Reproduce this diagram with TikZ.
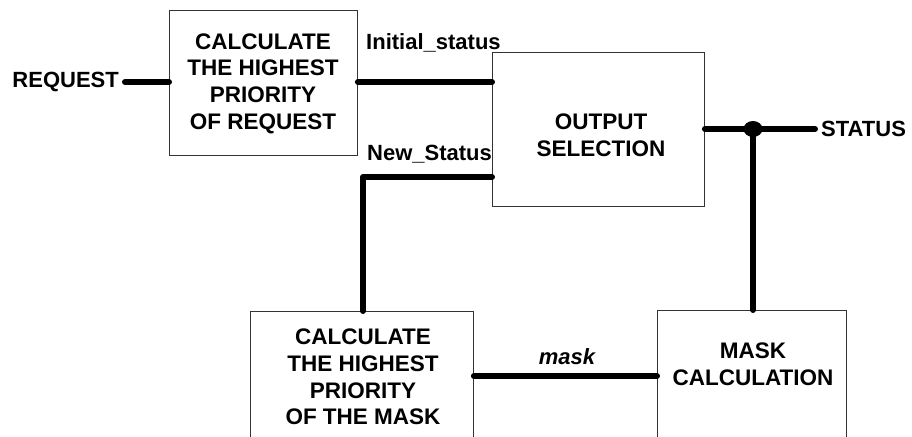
\documentclass[tikz,border=0pt]{standalone}
\usepackage{fontspec}
\setmainfont{Liberation Sans}
\begin{document}
\begin{tikzpicture}[x=1pt,y=-1pt,
  blk/.style={draw=black!80, line width=0.9pt, fill=white, inner sep=0pt, anchor=north west},
  blktext/.style={align=center, inner sep=0pt, font=\bfseries\fontsize{22.5}{26.7}\selectfont},
  sig/.style={inner sep=0pt, font=\bfseries\fontsize{22}{26}\selectfont},
  wire/.style={line width=6pt, line cap=round, line join=round}]
  \useasboundingbox (0,0) rectangle (912,436);
  \clip (0,0) rectangle (912,436);

  % functional blocks
  \node[blk, minimum width=188pt, minimum height=145pt] (prio) at (169,10) {};
  \node[blk, minimum width=212pt, minimum height=154pt] (out)  at (492,52) {};
  \node[blk, minimum width=223pt, minimum height=160pt] (mprio) at (250,311) {};
  \node[blk, minimum width=189pt, minimum height=160pt] (mcalc) at (657,310) {};

  \node[blktext] (prioT) at (263,83.5) {CALCULATE\\THE HIGHEST\\PRIORITY\\OF REQUEST};
  \node[blktext] (outT) at (601,135) {OUTPUT\\SELECTION};
  \node[blktext] (mprioT) at (363,377) {CALCULATE\\THE HIGHEST\\PRIORITY\\OF THE MASK};
  \node[blktext] (mcalcT) at (753,364) {MASK\\CALCULATION};

  % signal names
  \node[sig, anchor=east] (req) at (119,82) {REQUEST};
  \node[sig, anchor=base west] (init) at (366,50) {Initial\_status};
  \node[sig, anchor=base west] (news) at (367,160) {New\_Status};
  \node[sig, anchor=base, font=\bfseries\itshape\fontsize{22}{26}\selectfont] (mask) at (567,364) {mask};
  \node[sig, anchor=west] (stat) at (821,129) {STATUS};

  \coordinate (reqin) at (125,82);
  \coordinate (nsbend) at (363,177);
  \coordinate (stend) at (815,129);
  \coordinate (tap) at (753,129);

  % connections
  \draw[wire] (reqin) -- (reqin -| prio.west);
  \draw[wire] (reqin -| prio.east) -- (reqin -| out.west);
  \draw[wire] (nsbend -| out.west) -- (nsbend) -- (nsbend |- mprio.north);
  \draw[wire] (mprio.east |- 0,376) -- (mcalc.west |- 0,376);
  \draw[wire] (tap -| out.east) -- (stend);
  \draw[wire] (tap) -- (tap |- mcalc.north);
  \fill (tap) ellipse (9.5pt and 8pt);
\end{tikzpicture}
\end{document}
